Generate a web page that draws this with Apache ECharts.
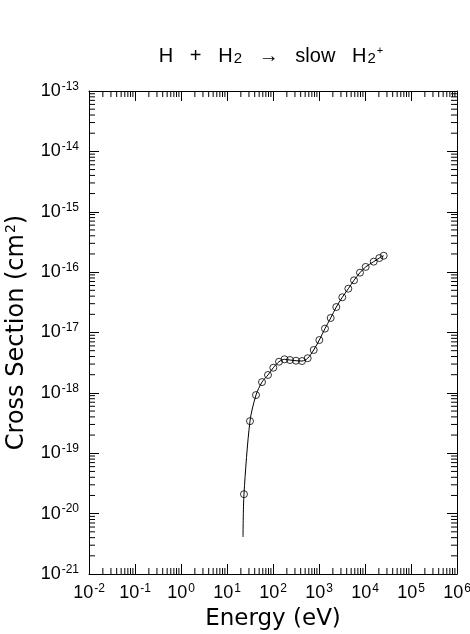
<!DOCTYPE html>
<html>
<head>
<meta charset="utf-8">
<script src="https://cdn.jsdelivr.net/npm/echarts@6/dist/echarts.min.js"></script>
<style>
html,body{margin:0;padding:0;background:#fff;}
#chart{width:470px;height:634px;}
</style>
</head>
<body>
<div id="chart"></div>
<script>
// ---- data ----
const xTickExps = [-2, -1, 0, 1, 2, 3, 4, 5, 6];
const yTickExps = [-21, -20, -19, -18, -17, -16, -15, -14, -13];
const curveStart = [22.3, 4.1e-21];
const markerEnergy = [23.4, 31.6, 42.7, 57.7, 77.8, 101.6, 135, 178, 234, 316, 427, 568, 767,
  1016, 1349, 1794, 2377, 3210, 4340, 5770, 7780, 10350, 15450, 20470, 25500];
const markerCross = [2.1e-20, 3.4e-19, 9.2e-19, 1.51e-18, 1.98e-18, 2.61e-18, 3.28e-18, 3.6e-18,
  3.5e-18, 3.41e-18, 3.37e-18, 3.75e-18, 5.13e-18, 7.5e-18, 1.16e-17, 1.74e-17, 2.64e-17,
  3.83e-17, 5.32e-17, 7.32e-17, 9.8e-17, 1.22e-16, 1.49e-16, 1.71e-16, 1.87e-16];

const xMin = Math.pow(10, xTickExps[0]), xMax = Math.pow(10, xTickExps[xTickExps.length - 1]);
const yMin = Math.pow(10, yTickExps[0]), yMax = Math.pow(10, yTickExps[yTickExps.length - 1]);

const markers = markerEnergy.map((e, i) => [e, markerCross[i]]);
const lineData = [curveStart].concat(markers);

function minorValues(exps) {
  const out = [];
  for (let k = 0; k < exps.length - 1; k++) {
    for (let m = 2; m <= 9; m++) out.push(m * Math.pow(10, exps[k]));
  }
  return out;
}
const xMinor = minorValues(xTickExps).map(v => [v, yMin]);
const yMinor = minorValues(yTickExps).map(v => [xMin, v]);
const yLabelData = yTickExps.map(e => [xMin, Math.pow(10, e), e]);

const FONT = 'Liberation Sans';
const NAMEFONT = 'DejaVu Sans';
const MINOR = 6, MAJOR = 10;

function expLabel(v) {
  const e = Math.round(Math.log10(v));
  return '{b|10}{e|' + e + '}';
}
const xLabelRich = {
  b: { fontSize: 18, fontFamily: FONT, color: '#000' },
  e: { fontSize: 12, fontFamily: FONT, color: '#000', padding: [0, 0, 9, 1] }
};
const yLabelRich = {
  b: { fontSize: 18, fontFamily: FONT, fill: '#000', color: '#000' },
  e: { fontSize: 12, fontFamily: FONT, fill: '#000', color: '#000', padding: [0, 0, 9, 1] }
};

const chart = echarts.init(document.getElementById('chart'), null, { renderer: 'canvas', width: 470, height: 634 });
function mkAxis(extra) {
  return Object.assign({
    type: 'log', logBase: 10, splitNumber: 8,
    axisLine: { show: true, onZero: false, lineStyle: { color: '#000', width: 1 } },
    axisTick: { show: true, inside: true, length: MAJOR, lineStyle: { color: '#000', width: 1 } },
    splitLine: { show: false },
    nameMoveOverlap: false
  }, extra);
}
chart.setOption({
  animation: false,
  backgroundColor: '#fff',
  title: {
    text: '{t|H   +   H}{s|2}{t|   →   slow   H}{s|2}{p|+}',
    left: 266, top: 40, textAlign: 'center',
    textStyle: {
      fontWeight: 'normal',
      rich: {
        t: { fontSize: 20, fontFamily: FONT, color: '#000', fontWeight: 'normal' },
        s: { fontSize: 15, fontFamily: FONT, color: '#000', fontWeight: 'normal', padding: [6, 0, 0, 1] },
        p: { fontSize: 11, fontFamily: FONT, color: '#000', fontWeight: 'normal', padding: [0, 0, 11, 1] }
      }
    }
  },
  grid: { left: 89, top: 91, right: 13, bottom: 60, containLabel: false, outerBoundsMode: 'none' },
  xAxis: [
    mkAxis({
      position: 'bottom', min: xMin, max: xMax,
      name: 'Energy (eV)', nameLocation: 'middle', nameGap: 34,
      nameTextStyle: { fontSize: 23, fontFamily: NAMEFONT, color: '#000' },
      axisLabel: { show: true, margin: 9, formatter: expLabel, rich: xLabelRich, showMinLabel: true, showMaxLabel: true, hideOverlap: false }
    }),
    mkAxis({ position: 'top', min: xMin, max: xMax, axisLabel: { show: false } })
  ],
  yAxis: [
    mkAxis({
      position: 'left', min: yMin, max: yMax,
      name: '{n|Cross Section (cm}{s|2}{n|)}', nameLocation: 'middle', nameGap: 59, nameRotate: 90,
      nameTextStyle: {
        fontSize: 24, fontFamily: NAMEFONT, color: '#000',
        rich: {
          n: { fontSize: 24, fontFamily: NAMEFONT, color: '#000' },
          s: { fontSize: 14, fontFamily: NAMEFONT, color: '#000', padding: [0, 0, 12, 1] }
        }
      },
      axisLabel: { show: false }
    }),
    mkAxis({ position: 'right', min: yMin, max: yMax, axisLabel: { show: false } })
  ],
  series: [
    {
      type: 'line', data: lineData, smooth: 0.3, showSymbol: false, symbol: 'none',
      lineStyle: { color: '#000', width: 1 }, xAxisIndex: 0, yAxisIndex: 0, z: 2
    },
    {
      type: 'scatter', data: markers, symbol: 'circle', symbolSize: 7,
      itemStyle: { color: 'rgba(0,0,0,0)', borderColor: '#000', borderWidth: 1 },
      xAxisIndex: 0, yAxisIndex: 0, z: 3
    },
    {
      type: 'custom', data: xMinor, xAxisIndex: 0, yAxisIndex: 0, silent: true, clip: false,
      renderItem: function (params, api) {
        const v = api.value(0);
        const b = api.coord([v, yMin]);
        const t = api.coord([v, yMax]);
        const st = { stroke: '#000', lineWidth: 1 };
        return { type: 'group', children: [
          { type: 'line', shape: { x1: b[0], y1: b[1], x2: b[0], y2: b[1] - MINOR }, style: st },
          { type: 'line', shape: { x1: t[0], y1: t[1], x2: t[0], y2: t[1] + MINOR }, style: st }
        ] };
      }
    },
    {
      type: 'custom', data: yMinor, xAxisIndex: 0, yAxisIndex: 0, silent: true, clip: false,
      renderItem: function (params, api) {
        const v = api.value(1);
        const l = api.coord([xMin, v]);
        const r = api.coord([xMax, v]);
        const st = { stroke: '#000', lineWidth: 1 };
        return { type: 'group', children: [
          { type: 'line', shape: { x1: l[0], y1: l[1], x2: l[0] + MINOR, y2: l[1] }, style: st },
          { type: 'line', shape: { x1: r[0], y1: r[1], x2: r[0] - MINOR, y2: r[1] }, style: st }
        ] };
      }
    },
    {
      type: 'custom', data: yLabelData, xAxisIndex: 0, yAxisIndex: 0, silent: true, clip: false,
      renderItem: function (params, api) {
        const p = api.coord([api.value(0), api.value(1)]);
        const e = api.value(2);
        return {
          type: 'text', x: p[0] - 10, y: p[1],
          style: {
            text: '{b|10}{e|' + e + '}', rich: yLabelRich,
            align: 'right', verticalAlign: 'middle', fill: '#000'
          }
        };
      }
    }
  ]
});
</script>
</body>
</html>
